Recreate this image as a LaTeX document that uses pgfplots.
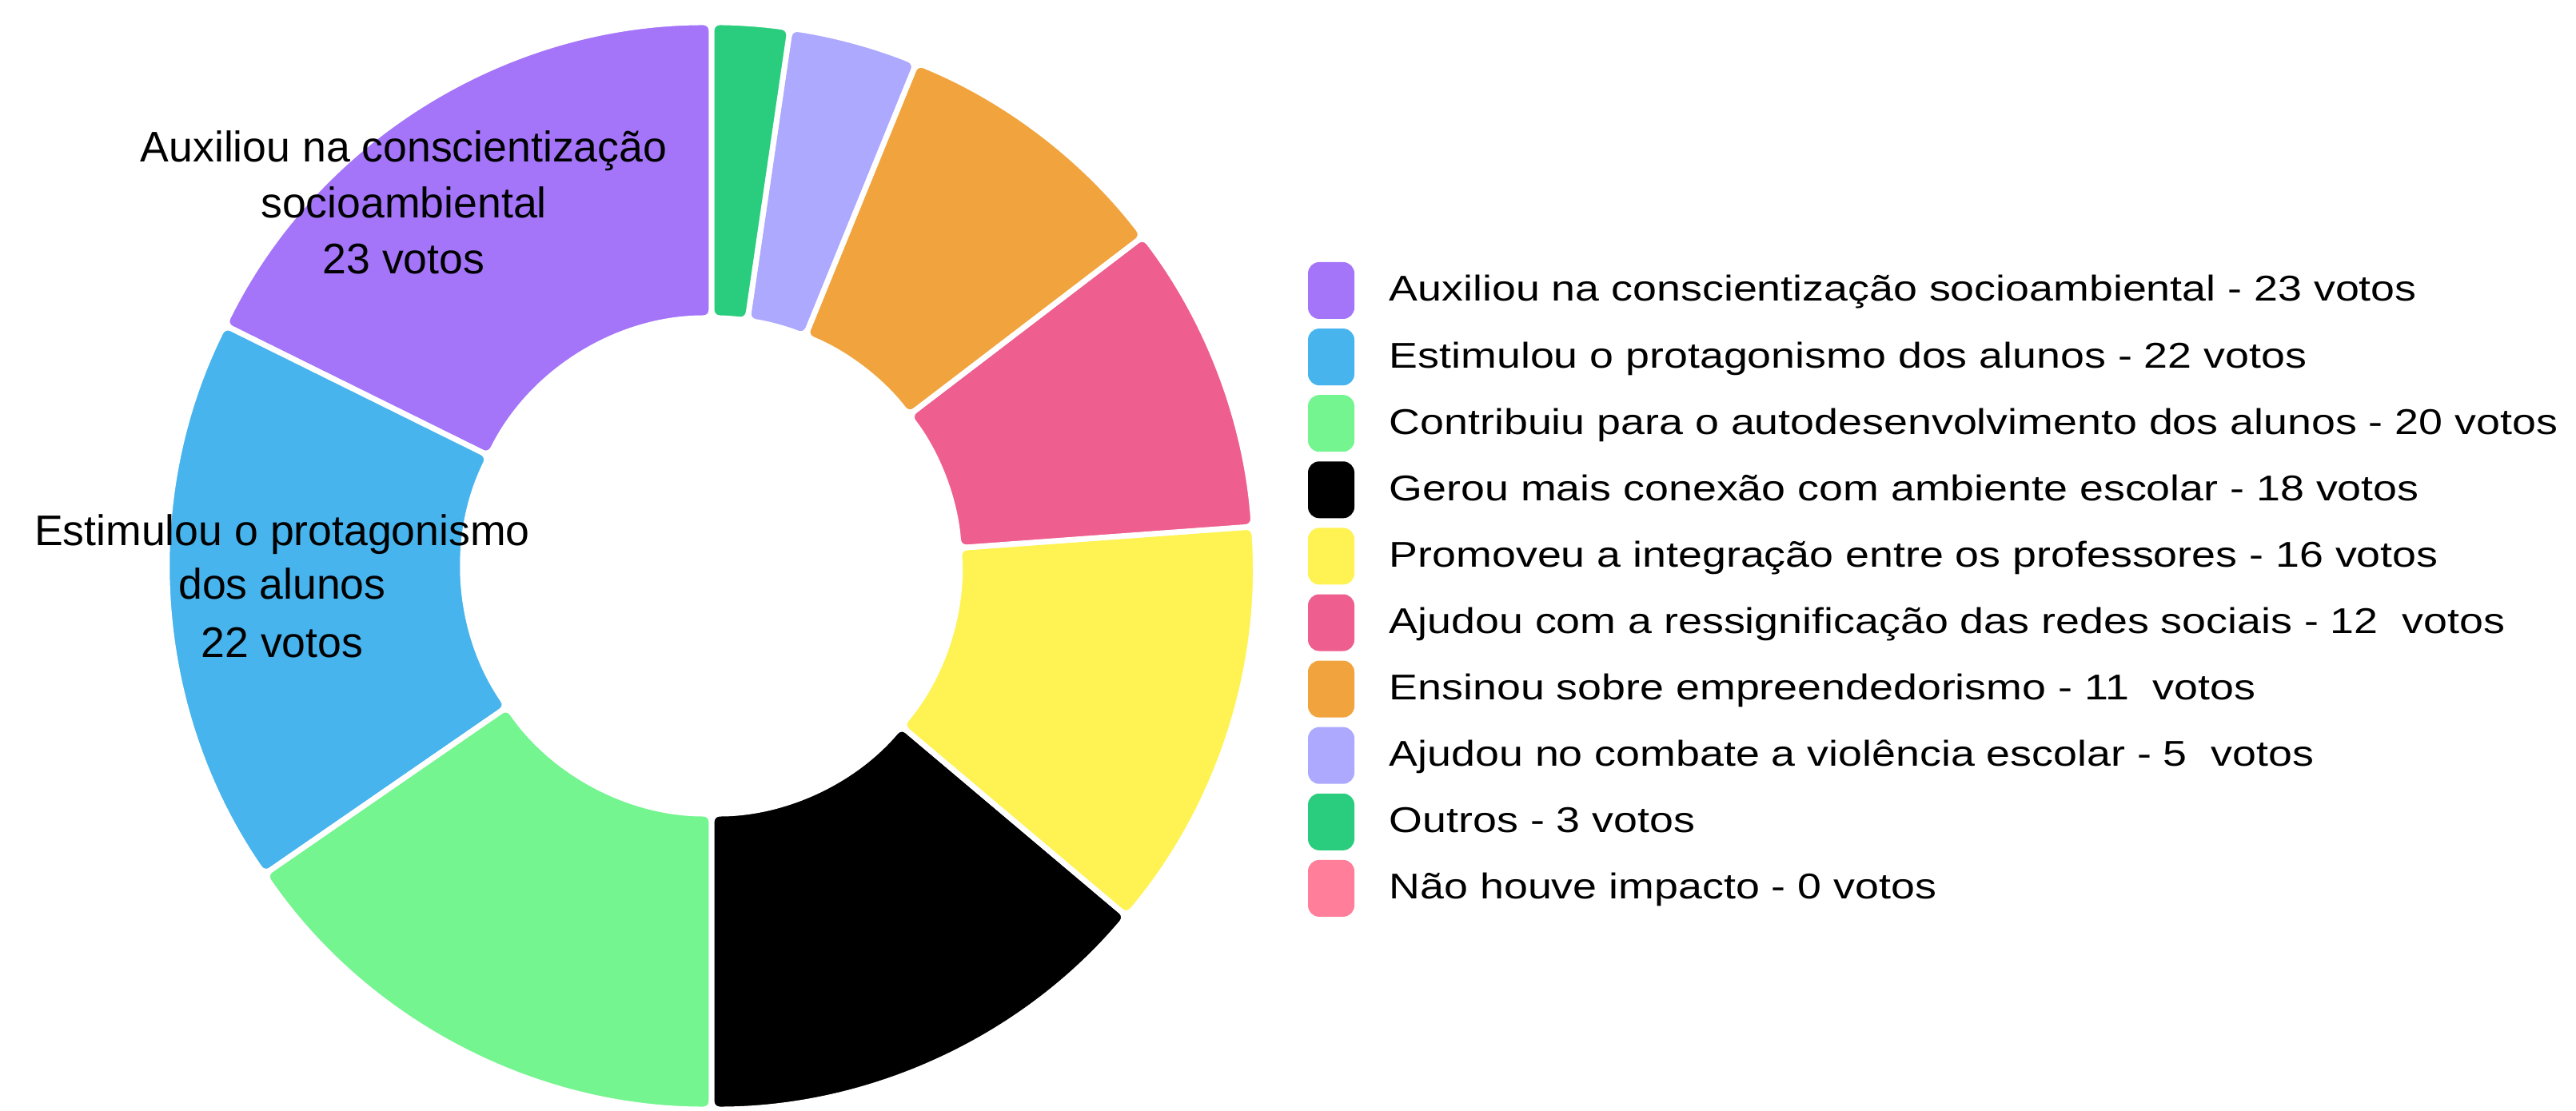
\documentclass[border=0pt]{standalone}
\usepackage{fontspec}
\setmainfont{Liberation Sans}
\newfontfamily\legfont{Liberation Sans}[FakeStretch=1.2]
\usepackage{pgfplots}
\usepackage{pgfplotstable}
\pgfplotsset{compat=1.18}

\definecolor{c0}{HTML}{A475F9}
\definecolor{c1}{HTML}{47B4EE}
\definecolor{c2}{HTML}{74F590}
\definecolor{c3}{HTML}{000000}
\definecolor{c4}{HTML}{FEF352}
\definecolor{c5}{HTML}{EE5E8F}
\definecolor{c6}{HTML}{F1A43D}
\definecolor{c7}{HTML}{ACA9FE}
\definecolor{c8}{HTML}{2ACD7E}
\definecolor{c9}{HTML}{FF7E9A}

\pgfplotstableread{
votes color
23 c0
22 c1
20 c2
18 c3
16 c4
12 c5
11 c6
5  c7
3  c8
0  c9
}\data

\begin{document}
\begin{tikzpicture}
\begin{axis}[x=0.25bp, y=0.25bp, xmin=0, xmax=3222, ymin=0, ymax=1389,
  hide axis, scale only axis, clip=true]
\addplot[draw=none, mark=none] coordinates {(0,0) (3222,1389)};
\pgfplotsextra{
  \path (axis cs:0,0) rectangle (axis cs:3222,1389);
  \gdef\mytotal{0}
  \foreach \i in {0,...,9} {
    \pgfplotstablegetelem{\i}{votes}\of\data
    \pgfmathsetmacro{\mytmp}{\mytotal+\pgfplotsretval}
    \xdef\mytotal{\mytmp}
  }
  \gdef\mycum{0}
  \begin{scope}[shift={(axis cs:890,681)}]
  \foreach \i in {0,...,8} {
    \pgfplotstablegetelem{\i}{votes}\of\data
    \let\myval\pgfplotsretval
    \pgfplotstablegetelem{\i}{color}\of\data
    \let\mycol\pgfplotsretval
    \pgfmathsetmacro{\angA}{90+\mycum/\mytotal*360}
    \pgfmathsetmacro{\angB}{90+(\mycum+\myval)/\mytotal*360}
    \pgfmathsetmacro{\mynext}{\mycum+\myval}
    \xdef\mycum{\mynext}
    \path[fill=\mycol, draw=white, line width=1.75bp, line join=round, rounded corners=2.5bp]
      (\angA:170bp) arc[start angle=\angA, end angle=\angB, radius=170bp]
      -- (\angB:77.5bp) arc[start angle=\angB, end angle=\angA, radius=77.5bp] -- cycle;
  }
  \end{scope}
  \node[anchor=base, font=\fontsize{13.4bp}{16bp}\selectfont] at (axis cs:505,1186) {Auxiliou na conscientização};
  \node[anchor=base, font=\fontsize{13.4bp}{16bp}\selectfont] at (axis cs:505,1116) {socioambiental};
  \node[anchor=base, font=\fontsize{13.4bp}{16bp}\selectfont] at (axis cs:505,1046) {23 votos};
  \node[anchor=base, font=\fontsize{13.4bp}{16bp}\selectfont] at (axis cs:353,707) {Estimulou o protagonismo};
  \node[anchor=base, font=\fontsize{13.4bp}{16bp}\selectfont] at (axis cs:353,639) {dos alunos};
  \node[anchor=base, font=\fontsize{13.4bp}{16bp}\selectfont] at (axis cs:353,567) {22 votos};
  \foreach \lab [count=\i from 0] in {
    Auxiliou na conscientização socioambiental - 23 votos,
    Estimulou o protagonismo dos alunos - 22 votos,
    Contribuiu para o autodesenvolvimento dos alunos - 20 votos,
    Gerou mais conexão com ambiente escolar - 18 votos,
    Promoveu a integração entre os professores - 16 votos,
    Ajudou com a ressignificação das redes sociais - 12\ \ votos,
    Ensinou sobre empreendedorismo - 11\ \ votos,
    Ajudou no combate a violência escolar - 5\ \ votos,
    Outros - 3 votos,
    Não houve impacto - 0 votos} {
    \pgfplotstablegetelem{\i}{color}\of\data
    \let\mycol\pgfplotsretval
    \pgfmathsetmacro{\ya}{1061-83.1*\i}
    \pgfmathsetmacro{\yb}{990-83.1*\i}
    \pgfmathsetmacro{\yt}{1012-83.1*\i}
    \fill[\mycol, rounded corners=3.5bp] (axis cs:1636,\ya) rectangle (axis cs:1694,\yb);
    \node[anchor=base west, inner sep=0pt, font=\legfont\fontsize{11.2bp}{14bp}\selectfont] at (axis cs:1737,\yt) {\lab};
  }
}
\end{axis}
\end{tikzpicture}
\end{document}
